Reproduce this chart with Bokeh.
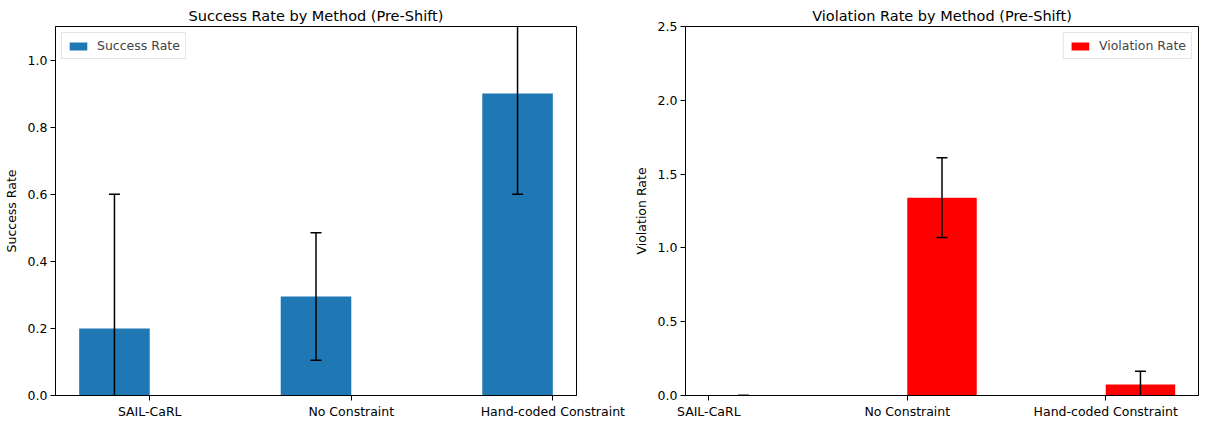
import numpy as np
from bokeh.plotting import figure
from bokeh.models import (ColumnDataSource, FixedTicker, Legend, LegendItem,
                          Range1d, PrintfTickFormatter)
from bokeh.transform import dodge
from bokeh.layouts import row
from bokeh.embed import file_html
from bokeh.resources import INLINE

# ---- data ----
methods = ["SAIL-CaRL", "No Constraint", "Hand-coded Constraint"]
success_mean = [0.20, 0.295, 0.90]
success_err = [0.40, 0.19, 0.30]
violation_mean = [0.0, 1.34, 0.075]
violation_err = [0.0, 0.27, 0.09]
success_yticks = [0.0, 0.2, 0.4, 0.6, 0.8, 1.0]
violation_yticks = [0.0, 0.5, 1.0, 1.5, 2.0, 2.5]

FONT = "DejaVu Sans"
BAR_W = 0.35


def make(title, ylabel, mean, err, color, offset, ymax, yticks, legend_label,
         legend_loc, bl, br, fw):
    x = np.arange(len(methods))
    mean = np.array(mean, dtype=float)
    err = np.array(err, dtype=float)
    src = ColumnDataSource(dict(x=x, top=mean, lower=mean - err, upper=mean + err))

    lo = x[0] + offset - BAR_W / 2
    hi = x[-1] + offset + BAR_W / 2
    m = 0.05 * (hi - lo)

    p = figure(output_backend="svg", toolbar_location=None,
               frame_width=fw, frame_height=369,
               min_border_left=bl, min_border_right=br,
               min_border_top=26, min_border_bottom=10,
               x_range=Range1d(lo - m, hi + m), y_range=Range1d(0, ymax),
               title=title)
    bars = p.vbar(x=dodge("x", offset), top="top", width=BAR_W, bottom=0,
                  source=src, fill_color=color, line_color=None)
    xs = dodge("x", offset)
    p.segment(x0=xs, y0="lower", x1=xs, y1="upper", source=src,
              line_color="black", line_width=1.5)
    p.scatter(x=xs, y="lower", source=src, marker="dash", size=11,
              line_color="black", line_width=1.5)
    p.scatter(x=xs, y="upper", source=src, marker="dash", size=11,
              line_color="black", line_width=1.5)

    p.title.text_font = FONT
    p.title.text_font_size = "14.5px"
    p.title.text_font_style = "normal"
    p.title.align = "center"
    p.title.standoff = 5
    p.title.text_color = "black"

    p.xgrid.visible = False
    p.ygrid.visible = False
    p.outline_line_color = "black"
    p.outline_line_alpha = 1.0
    p.background_fill_color = "white"
    p.border_fill_color = "white"

    p.xaxis.ticker = FixedTicker(ticks=list(x))
    p.xaxis.major_label_overrides = {int(i): mm for i, mm in enumerate(methods)}
    p.yaxis.ticker = FixedTicker(ticks=yticks)
    p.yaxis.formatter = PrintfTickFormatter(format="%.1f")
    p.yaxis.axis_label = ylabel
    for ax in (p.xaxis[0], p.yaxis[0]):
        ax.axis_line_color = "black"
        ax.major_tick_line_color = "black"
        ax.minor_tick_line_color = None
        ax.major_tick_in = 0
        ax.major_tick_out = 5
        ax.major_label_standoff = 3
        ax.major_label_text_font = FONT
        ax.major_label_text_font_size = "12.5px"
        ax.major_label_text_color = "black"
        ax.axis_label_text_font = FONT
        ax.axis_label_text_font_size = "12.5px"
        ax.axis_label_text_font_style = "normal"
        ax.axis_label_text_color = "black"
        ax.axis_label_standoff = 6

    leg = Legend(items=[LegendItem(label=legend_label, renderers=[bars])],
                 location=legend_loc, margin=6, padding=5, spacing=0,
                 glyph_width=22, glyph_height=10, label_height=12,
                 label_standoff=8, label_text_font=FONT,
                 label_text_font_size="12.5px", border_line_color="#cccccc",
                 background_fill_alpha=0.8)
    p.add_layout(leg)
    return p


p1 = make("Success Rate by Method (Pre-Shift)", "Success Rate", success_mean,
          success_err, "#1f77b4", -BAR_W / 2, 1.1, success_yticks,
          "Success Rate", "top_left", 49, 52, 521)
p2 = make("Violation Rate by Method (Pre-Shift)", "Violation Rate", violation_mean,
          violation_err, "#ff0000", BAR_W / 2, 2.5, violation_yticks,
          "Violation Rate", "top_right", 57, 2, 513)

layout = row(p1, p2)
open("out.html", "w").write(file_html(layout, INLINE))
